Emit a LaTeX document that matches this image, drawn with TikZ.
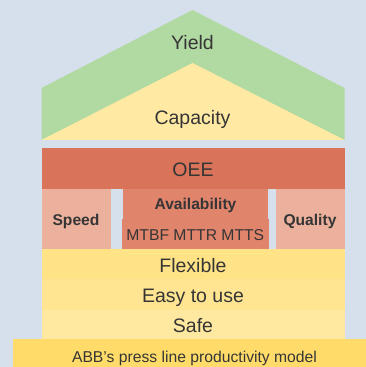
\documentclass[tikz,border=0pt]{standalone}
\usepackage{fontspec}
\setmainfont{Liberation Sans}
\definecolor{bg}{HTML}{D6E0EC}
\definecolor{roofgreen}{HTML}{B1D9A2}
\definecolor{capyellow}{HTML}{FFE9A3}
\definecolor{oeered}{HTML}{D9735A}
\definecolor{sidesalmon}{HTML}{ECB19C}
\definecolor{availred}{HTML}{E0846C}
\definecolor{flexy}{HTML}{FFE386}
\definecolor{easyy}{HTML}{FFE592}
\definecolor{safey}{HTML}{FFE89F}
\definecolor{abby}{HTML}{FFDC6A}
\definecolor{txt}{HTML}{353535}
\tikzset{
  lbl/.style={text=txt, inner sep=0pt, anchor=base, font=\fontsize{19.5}{22}\selectfont},
  smlbl/.style={text=txt, inner sep=0pt, anchor=base, font=\fontsize{15.7}{18}\selectfont},
  boldlbl/.style={text=txt, inner sep=0pt, anchor=base, font=\fontsize{15.6}{18}\selectfont\bfseries},
}
\begin{document}
\begin{tikzpicture}[x=1pt,y=1pt]
\useasboundingbox (0,0) rectangle (366,367);
\fill[bg] (0,0) rectangle (366,367);
% roof
\fill[roofgreen] (41.5,227) -- (41.5,279) -- (192.5,357) -- (344.5,279) -- (344.5,227) -- cycle;
\fill[capyellow] (41.5,227) -- (192.5,304) -- (344.5,227) -- cycle;
\node[lbl] (yield) at (192.5,317) {Yield};
\node[lbl] (capacity) at (192.5,242) {Capacity};
% OEE
\fill[oeered] (41.7,178) rectangle (344.7,219.3);
\node[lbl] (oee) at (193,190.3) {OEE};
% pillars
\fill[sidesalmon] (41.7,117.7) rectangle (111,178);
\fill[sidesalmon] (276,117.7) rectangle (344.7,178);
\fill[availred] (123,148) rectangle (268,178);
\fill[availred] (122,117.7) rectangle (269,148);
\node[boldlbl] (speed) at (76,141) {Speed};
\node[boldlbl] (quality) at (310,141) {Quality};
\node[boldlbl] (avail) at (195.5,157.7) {Availability};
\node[smlbl] (mtbf) at (195.3,126) {MTBF MTTR MTTS};
% base bands
\fill[flexy] (41.7,88) rectangle (344.7,117.7);
\fill[easyy] (41.7,57.3) rectangle (344.7,88);
\fill[safey] (41.7,27.7) rectangle (344.7,57.3);
\fill[abby] (13.3,0) rectangle (366,27.7);
\node[lbl] (flex) at (193,94.7) {Flexible};
\node[lbl] (easy) at (193,64.3) {Easy to use};
\node[lbl] (safe) at (193,34.7) {Safe};
\node[smlbl] (abb) at (194.5,5) {ABB’s press line productivity model};
\end{tikzpicture}
\end{document}
